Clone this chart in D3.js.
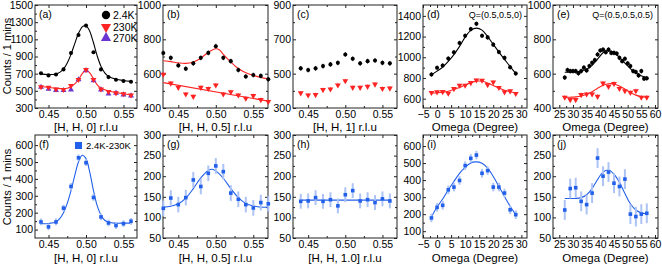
<!DOCTYPE html>
<html>
<head>
<meta charset="utf-8">
<script src="https://cdn.jsdelivr.net/npm/d3@7"></script>
<style>
  body { margin: 0; background: #fff; }
  svg { font-family: "Liberation Sans", Arial, sans-serif; }
  .tick text { font-family: "Liberation Sans", Arial, sans-serif; font-size: 10.5px; fill: #000; }
  .tick line { stroke: #222; }
</style>
</head>
<body>
<div id="chart"></div>
<script>
// scan positions
const hScan = [0.44, 0.45, 0.46, 0.47, 0.48, 0.49, 0.50, 0.51, 0.52, 0.53, 0.54, 0.55, 0.56]
const hScanWide = [0.43, 0.44, 0.45, 0.46, 0.47, 0.48, 0.49, 0.50, 0.51, 0.52, 0.53, 0.54, 0.55, 0.56, 0.57]
const omegaD = [-2, 0, 2, 4, 6, 8, 10, 12, 14, 16, 18, 20, 22, 24, 26, 28]
const omegaEfine = [27, 28, 29, 30, 31, 32, 33, 34, 35, 36, 37, 38, 39, 40, 41, 42, 43, 44, 45, 46, 47, 48, 49, 50, 51, 52, 53, 54, 55, 56, 57]
const omegaE = [27, 29, 31, 33, 35, 37, 39, 41, 43, 45, 47, 49, 51, 53, 55, 57]

// top row: counts
const a24K = [705, 680, 690, 750, 940, 1150, 1260, 950, 750, 660, 630, 615, 605]
const a230K = [545, 540, 520, 513, 560, 630, 745, 630, 520, 490, 475, 465, 450]
const a270K = [543, 520, 505, 505, 513, 630, 737, 620, 513, 465, 475, 455, 443]
const b24K = [720, 692, 648, 629, 660, 692, 721, 760, 692, 673, 621, 583, 592, 587, 567]
const b230K = [596, 544, 519, 481, 467, 519, 513, 533, 481, 494, 475, 456, 471, 448, 437]
const c24K = [531, 521, 531, 544, 554, 563, 612, 587, 560, 573, 577, 563, 560]
const c230K = [387, 375, 377, 406, 410, 433, 458, 419, 419, 425, 438, 413, 415]
const d24K = [834, 898, 920, 987, 1048, 1138, 1208, 1272, 1323, 1208, 1192, 1122, 1051, 994, 904, 843]
const d230K = [658, 664, 667, 651, 696, 728, 728, 754, 779, 776, 734, 760, 706, 664, 674, 648]
const e24K = [577, 621, 615, 615, 615, 602, 615, 635, 619, 644, 663, 679, 712, 735, 740, 725, 740, 721, 721, 717, 692, 673, 687, 660, 644, 615, 610, 590, 615, 571, 573]
const e230K = [462, 448, 448, 477, 481, 481, 467, 544, 525, 542, 513, 500, 490, 500, 462, 462]

// bottom row: 2.4K - 230K difference
const fDiff = [145, 116, 145, 227, 355, 525, 496, 290, 175, 139, 124, 135, 149]
const gDiff = [122, 147, 131, 148, 191, 175, 207, 225, 211, 159, 144, 131, 123, 136, 133]
const hDiff = [139, 140, 148, 139, 143, 128, 155, 165, 140, 143, 136, 145, 140]
const iDiff = [178, 240, 252, 343, 359, 398, 485, 528, 547, 440, 456, 359, 359, 324, 226, 197]
const jDiff = [118, 170, 172, 139, 131, 159, 244, 200, 210, 183, 175, 193, 108, 102, 108, 110]

// fitted curves, [x, counts]
const fitA24K = [[0.44,695],[0.45,690],[0.46,697],[0.465,715],[0.47,755],[0.475,825],[0.48,925],[0.485,1050],[0.49,1170],[0.495,1245],[0.4985,1258],[0.502,1240],[0.505,1195],[0.51,1060],[0.515,905],[0.52,785],[0.525,710],[0.53,668],[0.54,636],[0.55,620],[0.56,610]]
const fitA230K = [[0.44,550],[0.45,540],[0.46,530],[0.47,524],[0.475,530],[0.48,548],[0.485,580],[0.49,630],[0.495,700],[0.50,745],[0.505,710],[0.51,640],[0.515,570],[0.52,532],[0.53,497],[0.54,480],[0.55,466],[0.56,453]]
const fitB24K = [[0.43,675],[0.44,670],[0.45,663],[0.46,660],[0.47,668],[0.48,690],[0.49,725],[0.50,745],[0.505,738],[0.51,712],[0.52,668],[0.53,630],[0.54,605],[0.55,590],[0.56,578],[0.57,570]]
const fitB230K = [[0.43,548],[0.57,440]]
const fitD24K = [[-2,830],[0,866],[2,905],[4,960],[6,1025],[8,1105],[10,1195],[12,1260],[14,1282],[16,1262],[18,1200],[20,1125],[22,1050],[24,980],[26,910],[28,845]]
const fitD230K = [[-2,655],[0,658],[2,663],[4,672],[6,688],[8,708],[10,732],[12,755],[14,770],[16,768],[18,752],[20,728],[22,703],[24,682],[26,667],[28,657]]
const fitE24K = [[27,608],[29,608],[31,610],[33,614],[35,625],[37,648],[39,685],[41,722],[42.5,735],[44,730],[46,710],[48,678],[50,645],[52,615],[54,595],[56,582],[57,578]]
const fitE230K = [[27,462],[29,463],[31,465],[33,470],[35,480],[37,495],[39,515],[41,532],[43,541],[45,540],[47,528],[49,510],[51,490],[53,475],[55,466],[57,462]]
const fitF = [[0.44,135],[0.45,136],[0.46,145],[0.465,165],[0.47,200],[0.475,255],[0.48,330],[0.485,420],[0.49,500],[0.495,540],[0.50,520],[0.505,440],[0.51,330],[0.515,240],[0.52,185],[0.525,155],[0.53,143],[0.54,138],[0.55,138],[0.56,138]]
const fitG = [[0.43,125],[0.44,127],[0.45,133],[0.46,147],[0.47,170],[0.48,196],[0.49,214],[0.495,217],[0.50,213],[0.51,195],[0.52,170],[0.53,148],[0.54,134],[0.55,128],[0.56,125],[0.57,125]]
const fitH = [[0.44,142],[0.56,142]]
const fitI = [[-2,184],[0,242],[2,289],[4,343],[6,392],[8,440],[10,475],[12,500],[13.5,507],[16,499],[18,470],[20,421],[22,363],[24,304],[26,246],[28,197]]
const fitJ = [[27,146],[29,146],[31,146],[33,148],[35,155],[37,170],[39,192],[41,210],[43,215],[45,205],[47,185],[49,158],[51,133],[53,118],[55,111],[57,109]]

// tick values
const hTicks = [0.45, 0.50, 0.55]
const omegaDTicks = [-5, 0, 5, 10, 15, 20, 25, 30]
const omegaETicks = [25, 30, 35, 40, 45, 50, 55, 60]

const BLACK = "#000", RED = "#ff2424", PURPLE = "#6a35d2", BLUE = "#2360ea", LIGHTBLUE = "#adc3f5"

const cols = [[35, 137], [163, 268], [293, 397], [423, 527], [553, 658]]
const rows = [[5, 108], [135, 238]]

let svg = d3.select("#chart").append("svg")
  .attr("width", 662)
  .attr("height", 265)

let blk = (x, y, err) => ({ x: x, y: y, err: err, shape: "circle", color: BLACK, barColor: BLACK })
let red = (x, y, err) => ({ x: x, y: y, err: err, shape: "down", color: RED, barColor: RED })
let blu = (x, y, err) => ({ x: x, y: y, err: err, shape: "square", color: BLUE, barColor: LIGHTBLUE })

let panels = [
  { col: 0, row: 0, label: "(a)", xd: [0.432, 0.568], yd: [300, 1500], xt: hTicks, fmt: ".2f", yt: [300, 500, 700, 900, 1100, 1300, 1500], title: "[H, H, 0] r.l.u",
    fits: [[fitA24K, BLACK], [fitA230K, RED]],
    series: [{ x: hScan, y: a270K, err: 14, shape: "up", color: PURPLE, barColor: PURPLE }, red(hScan, a230K, 14), blk(hScan, a24K, 14)] },
  { col: 1, row: 0, label: "(b)", xd: [0.4296, 0.5696], yd: [400, 1000], xt: hTicks, fmt: ".2f", yt: [400, 600, 800, 1000], title: "[H, H, 0.5] r.l.u",
    fits: [[fitB24K, RED], [fitB230K, RED]],
    series: [red(hScanWide, b230K, 12), blk(hScanWide, b24K, 14)] },
  { col: 2, row: 0, label: "(c)", xd: [0.4296, 0.5696], yd: [300, 900], xt: hTicks, fmt: ".2f", yt: [300, 500, 700, 900], title: "[H, H, 1] r.l.u",
    fits: [],
    series: [red(hScan, c230K, 12), blk(hScan, c24K, 14)] },
  { col: 3, row: 0, label: "(d)", note: "Q=(0.5,0.5,0)", xd: [-5, 32], yd: [510, 1505], xt: omegaDTicks, fmt: "d", yt: [600, 800, 1000, 1200, 1400], title: "Omega (Degree)",
    fits: [[fitD24K, BLACK], [fitD230K, RED]],
    series: [red(omegaD, d230K, 16), blk(omegaD, d24K, 22)] },
  { col: 4, row: 0, label: "(e)", note: "Q=(0.5,0.5,0.5)", xd: [22.7, 61.1], yd: [400, 1000], xt: omegaETicks, fmt: "d", yt: [400, 600, 800, 1000], title: "Omega (Degree)",
    fits: [[fitE24K, BLACK], [fitE230K, RED]],
    series: [red(omegaE, e230K, 12), blk(omegaEfine, e24K, 14)] },
  { col: 0, row: 1, label: "(f)", xd: [0.432, 0.568], yd: [50, 660], xt: hTicks, fmt: ".2f", yt: [100, 200, 300, 400, 500, 600], title: "[H, H, 0] r.l.u",
    fits: [[fitF, BLUE]], series: [blu(hScan, fDiff, 20)] },
  { col: 1, row: 1, label: "(g)", xd: [0.4296, 0.5696], yd: [50, 300], xt: hTicks, fmt: ".2f", yt: [50, 100, 150, 200, 250, 300], title: "[H, H, 0.5] r.l.u",
    fits: [[fitG, BLUE]], series: [blu(hScanWide, gDiff, 19)] },
  { col: 2, row: 1, label: "(h)", xd: [0.4296, 0.5696], yd: [50, 300], xt: hTicks, fmt: ".2f", yt: [50, 100, 150, 200, 250, 300], title: "[H, H, 1.0] r.l.u",
    fits: [[fitH, BLUE]], series: [blu(hScan, hDiff, 18)] },
  { col: 3, row: 1, label: "(i)", xd: [-5, 32], yd: [60, 665], xt: omegaDTicks, fmt: "d", yt: [100, 200, 300, 400, 500, 600], title: "Omega (Degree)",
    fits: [[fitI, BLUE]], series: [blu(omegaD, iDiff, 25)] },
  { col: 4, row: 1, label: "(j)", xd: [22.7, 61.1], yd: [50, 300], xt: omegaETicks, fmt: "d", yt: [50, 100, 150, 200, 250, 300], title: "Omega (Degree)",
    fits: [[fitJ, BLUE]], series: [blu(omegaE, jDiff, 24)] }
]

let symbolFor = (shape, size) => {
  if (shape === "circle") return d3.symbol(d3.symbolCircle, size)()
  if (shape === "square") return d3.symbol(d3.symbolSquare, size)()
  return d3.symbol(d3.symbolTriangle, size)()
}

let drawPanel = (p) => {
  let [left, right] = cols[p.col]
  let [top, bottom] = rows[p.row]

  let x = d3.scaleLinear().domain(p.xd).range([left, right])
  let y = d3.scaleLinear().domain(p.yd).range([bottom, top])

  let g = svg.append("g")

  // minor ticks halfway between the labelled ones
  let xMinor = d3.pairs(p.xt).map(d => (d[0] + d[1]) / 2)
  let yMinor = d3.pairs(p.yt).map(d => (d[0] + d[1]) / 2)

  let axes = [
    [d3.axisBottom(x).tickValues(p.xt).tickFormat(d3.format(p.fmt)).tickSize(-3).tickPadding(3), "translate(0," + bottom + ")"],
    [d3.axisBottom(x).tickValues(xMinor).tickFormat("").tickSize(-2), "translate(0," + bottom + ")"],
    [d3.axisTop(x).tickValues(p.xt).tickFormat("").tickSize(-3), "translate(0," + top + ")"],
    [d3.axisTop(x).tickValues(xMinor).tickFormat("").tickSize(-2), "translate(0," + top + ")"],
    [d3.axisLeft(y).tickValues(p.yt).tickFormat(d3.format("d")).tickSize(-3).tickPadding(2), "translate(" + left + ",0)"],
    [d3.axisLeft(y).tickValues(yMinor).tickFormat("").tickSize(-2), "translate(" + left + ",0)"],
    [d3.axisRight(y).tickValues(p.yt).tickFormat("").tickSize(-3), "translate(" + right + ",0)"],
    [d3.axisRight(y).tickValues(yMinor).tickFormat("").tickSize(-2), "translate(" + right + ",0)"]
  ]
  axes.forEach(a => {
    let ax = g.append("g").attr("transform", a[1]).call(a[0])
    ax.select(".domain").remove()
  })

  g.append("rect")
    .attr("x", left).attr("y", top)
    .attr("width", right - left).attr("height", bottom - top)
    .attr("fill", "none").attr("stroke", "#222").attr("stroke-width", 1)

  // fits
  let line = d3.line().x(d => x(d[0])).y(d => y(d[1])).curve(d3.curveCatmullRom)
  p.fits.forEach(f => {
    g.append("path").attr("d", line(f[0]))
      .attr("fill", "none").attr("stroke", f[1]).attr("stroke-width", 1.1)
  })

  // data with error bars
  p.series.forEach(s => {
    let pts = s.x.map((xv, i) => [xv, s.y[i]])
    let blue = s.shape === "square"
    g.append("g").selectAll("line").data(pts).enter().append("line")
      .attr("x1", d => x(d[0])).attr("x2", d => x(d[0]))
      .attr("y1", d => y(d[1] - s.err)).attr("y2", d => y(d[1] + s.err))
      .attr("stroke", s.barColor).attr("stroke-width", blue ? 2 : 0.8)
    let size = s.shape === "circle" ? 13 : s.shape === "square" ? 13 : 15
    g.append("g").selectAll("path").data(pts).enter().append("path")
      .attr("d", symbolFor(s.shape, size))
      .attr("transform", d => "translate(" + x(d[0]) + "," + y(d[1]) + ")" + (s.shape === "down" ? " rotate(180)" : ""))
      .attr("fill", s.color)
  })

  g.append("text").attr("x", left + 4).attr("y", top + 13)
    .attr("font-size", "10.5px").text(p.label)

  if (p.note) {
    g.append("text")
      .attr("x", right - 5).attr("y", top + 13)
      .attr("text-anchor", "end")
      .attr("font-size", "9px")
      .text(p.note)
  }

  g.append("text")
    .attr("x", (left + right) / 2)
    .attr("y", p.row === 0 ? 131 : 262)
    .attr("text-anchor", "middle")
    .attr("font-size", "11.5px")
    .text(p.title)
}

panels.forEach(drawPanel)

// y axis titles
;[56, 187].forEach(cy => {
  svg.append("text")
    .attr("transform", "translate(11," + cy + ") rotate(-90)")
    .attr("text-anchor", "middle")
    .attr("font-size", "11px")
    .text("Counts / 1 mins")
})

// legend for (a)
let legA = [["2.4K", "circle", BLACK, 15], ["230K", "down", RED, 27], ["270K", "up", PURPLE, 38]]
legA.forEach(d => {
  svg.append("path")
    .attr("d", symbolFor(d[1], d[1] === "circle" ? 55 : 45))
    .attr("transform", "translate(106," + d[3] + ")" + (d[1] === "down" ? " rotate(180)" : ""))
    .attr("fill", d[2])
  svg.append("text").attr("x", 113).attr("y", d[3] + 3.5)
    .attr("font-size", "10.5px").text(d[0])
})

// legend for (f)
svg.append("path")
  .attr("d", symbolFor("square", 50))
  .attr("transform", "translate(78.5,145.5)")
  .attr("fill", BLUE)
svg.append("text").attr("x", 86).attr("y", 149)
  .attr("font-size", "9.5px").text("2.4K-230K")
</script>
</body>
</html>
